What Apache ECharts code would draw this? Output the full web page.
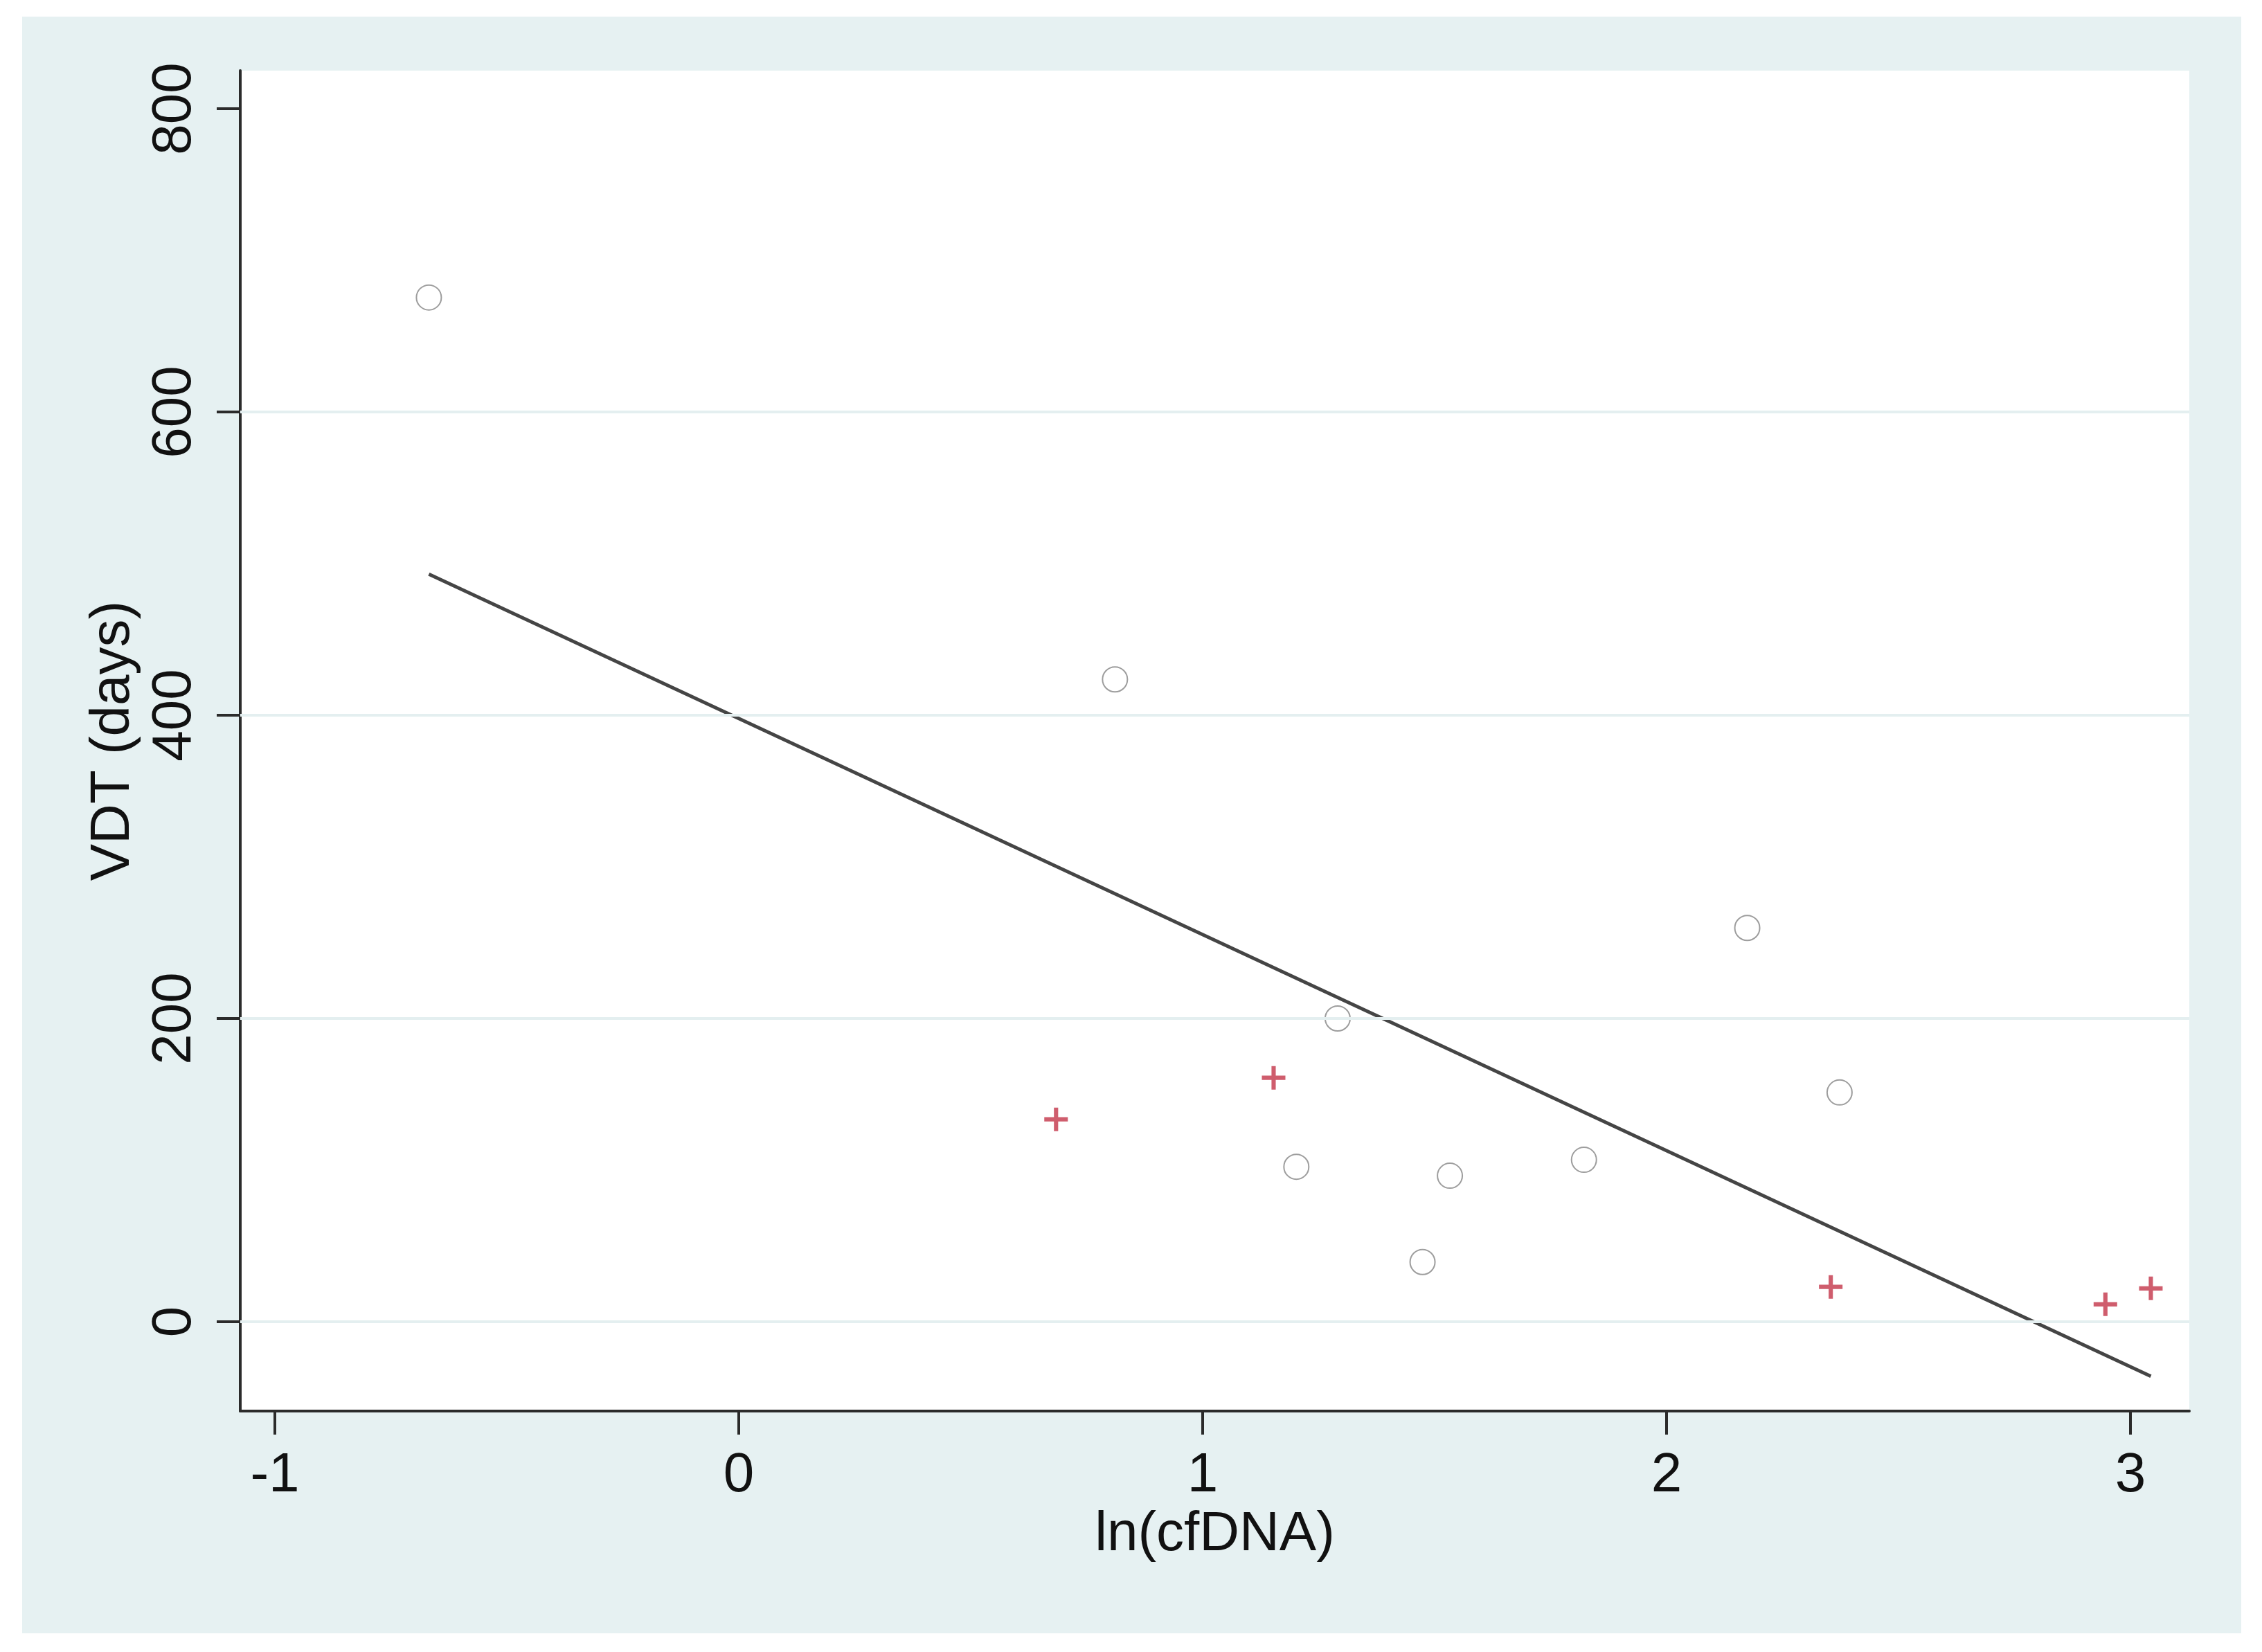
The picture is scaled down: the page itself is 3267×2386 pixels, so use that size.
<!DOCTYPE html>
<html>
<head>
<meta charset="utf-8">
<script src="https://cdn.jsdelivr.net/npm/echarts@6/dist/echarts.min.js"></script>
<style>
  html, body { margin: 0; padding: 0; background: #ffffff; width: 3267px; height: 2386px; overflow: hidden; }
  #chart { position: absolute; left: 32px; top: 24px; width: 3205px; height: 2335px; }
</style>
</head>
<body>
<div id="chart"></div>
<script>
// ---- data ----
// open circles: [ln(cfDNA), VDT days]
const circlePoints = [
  [-0.668, 675.5],
  [0.811, 423.6],
  [1.291, 200.0],
  [1.202, 102.2],
  [1.533, 96.3],
  [1.474, 39.4],
  [1.822, 106.8],
  [2.174, 259.7],
  [2.373, 151.2]
];
// red plus markers
const plusPoints = [
  [0.684, 133.5],
  [1.153, 160.9],
  [2.354, 23.0],
  [2.946, 11.5],
  [3.044, 22.0]
];
// fitted regression line end points
const fitLine = [
  [-0.668, 493.0],
  [3.044, -36.0]
];
// axis ticks
const xTicks = [-1, 0, 1, 2, 3];
const yTicks = [0, 200, 400, 600, 800];
const yGrid = [0, 200, 400, 600];
const xRange = [-1.0746, 3.1269];
const yRange = [-58.9, 825.1];
const xTitle = 'ln(cfDNA)';
const yTitle = 'VDT (days)';

const FONT = '"Liberation Sans", Arial, sans-serif';
const axisColor = '#2b2b2b';
const plusPath = 'path://M41,0h18v41h41v18h-41v41h-18v-41h-41v-18h41z';

const chart = echarts.init(document.getElementById('chart'), null, { renderer: 'canvas' });
chart.setOption({
  backgroundColor: '#e6f1f2',
  animation: false,
  grid: {
    left: 315, top: 78, right: 75, bottom: 321,
    show: true, backgroundColor: '#ffffff', borderWidth: 0
  },
  xAxis: {
    type: 'value',
    min: xRange[0], max: xRange[1],
    axisLine: { show: true, onZero: false, lineStyle: { color: axisColor, width: 4 } },
    axisTick: { show: true, customValues: xTicks, length: 34, lineStyle: { color: axisColor, width: 4 } },
    axisLabel: { customValues: xTicks, margin: 54, fontSize: 80, color: '#111', fontFamily: FONT },
    splitLine: { show: false },
    name: xTitle, nameLocation: 'middle', nameGap: 126,
    nameTextStyle: { fontSize: 80, color: '#111', fontFamily: FONT }
  },
  yAxis: {
    type: 'value',
    min: yRange[0], max: yRange[1],
    axisLine: { show: true, onZero: false, lineStyle: { color: axisColor, width: 4 } },
    axisTick: { show: true, customValues: yTicks, length: 34, lineStyle: { color: axisColor, width: 4 } },
    axisLabel: { customValues: yTicks, rotate: 90, margin: 54, fontSize: 80, color: '#111', fontFamily: FONT },
    splitLine: { show: false },
    name: yTitle, nameLocation: 'middle', nameGap: 143,
    nameTextStyle: { fontSize: 80, color: '#111', fontFamily: FONT }
  },
  series: [
    {
      type: 'scatter', data: [], z: 1, silent: true,
      markLine: {
        silent: true, symbol: ['none', 'none'], label: { show: false },
        lineStyle: { color: '#e4eff0', width: 4, type: 'solid' },
        data: yGrid.map(v => ({ yAxis: v }))
      }
    },
    {
      type: 'scatter', data: circlePoints, z: 3,
      symbol: 'emptyCircle', symbolSize: 36,
      itemStyle: { color: '#858585', borderColor: '#858585', borderWidth: 6 }
    },
    {
      type: 'scatter', data: plusPoints, z: 3,
      symbol: plusPath, symbolSize: 34,
      itemStyle: { color: '#c33448' }
    },
    {
      type: 'line', data: fitLine, z: 4,
      symbol: 'none',
      lineStyle: { color: '#454545', width: 5 }
    }
  ]
});
</script>
</body>
</html>
